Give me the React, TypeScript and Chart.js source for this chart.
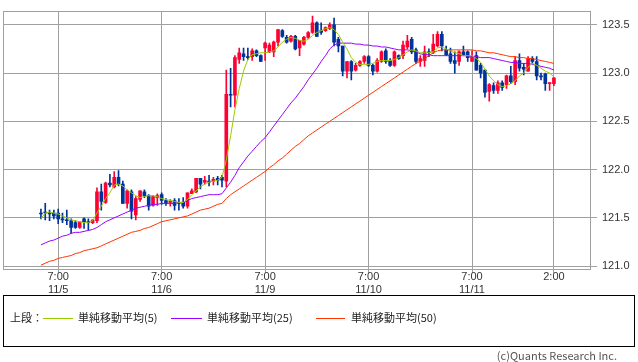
import React, { useEffect, useRef } from "react";
import { Chart, registerables } from "chart.js";

Chart.register(...registerables);

// Hourly candles: index 0 = 11/5 3:00, index 119 = 11/12 2:00 (weekend removed)
const OPEN = [
  121.55, 121.56, 121.55, 121.55, 121.55, 121.49, 121.48, 121.47, 121.45, 121.40,
  121.49, 121.46, 121.45, 121.47, 121.77, 121.66, 121.86, 121.82, 121.92, 121.85,
  121.65, 121.77, 121.53, 121.69, 121.77, 121.73, 121.63, 121.71, 121.74, 121.68,
  121.66, 121.68, 121.66, 121.66, 121.62, 121.75, 121.77, 121.91, 121.87, 121.88,
  121.88, 121.91, 121.92, 121.88, 122.78, 122.77, 123.14, 123.20, 123.17, 123.17,
  123.23, 123.18, 123.26, 123.22, 123.22, 123.32, 123.44, 123.37, 123.33, 123.38,
  123.26, 123.30, 123.37, 123.42, 123.52, 123.44, 123.44, 123.46, 123.50, 123.35,
  123.28, 123.02, 123.12, 123.03, 123.08, 123.12, 123.17, 123.08, 123.02, 123.12,
  123.23, 123.13, 123.08, 123.18, 123.18, 123.27, 123.35, 123.24, 123.12, 123.13,
  123.22, 123.22, 123.28, 123.40, 123.24, 123.20, 123.13, 123.12, 123.22, 123.22,
  123.12, 123.18, 123.08, 123.03, 122.81, 122.87, 122.82, 122.90, 122.88, 122.97,
  122.91, 123.13, 123.06, 123.02, 123.15, 123.12, 122.97, 122.99, 122.89, 122.89,
];
const HIGH = [
  121.59, 121.65, 121.58, 121.58, 121.59, 121.55, 121.58, 121.49, 121.47, 121.46,
  121.50, 121.49, 121.48, 121.81, 121.85, 121.87, 121.95, 121.98, 121.99, 121.88,
  121.79, 121.79, 121.72, 121.78, 121.79, 121.74, 121.73, 121.75, 121.76, 121.70,
  121.69, 121.70, 121.70, 121.71, 121.76, 121.80, 121.91, 121.91, 121.93, 121.94,
  121.92, 121.93, 121.94, 123.03, 123.05, 123.18, 123.26, 123.26, 123.26, 123.25,
  123.24, 123.19, 123.32, 123.31, 123.33, 123.45, 123.45, 123.39, 123.39, 123.39,
  123.34, 123.38, 123.43, 123.59, 123.53, 123.52, 123.48, 123.52, 123.57, 123.37,
  123.28, 123.12, 123.13, 123.10, 123.13, 123.18, 123.18, 123.09, 123.15, 123.23,
  123.25, 123.15, 123.23, 123.19, 123.33, 123.39, 123.37, 123.26, 123.18, 123.28,
  123.25, 123.40, 123.43, 123.43, 123.28, 123.26, 123.22, 123.23, 123.28, 123.23,
  123.23, 123.22, 123.10, 123.03, 122.89, 122.90, 122.92, 122.92, 122.98, 123.07,
  123.17, 123.20, 123.10, 123.17, 123.17, 123.17, 123.00, 123.00, 122.90, 122.95,
];
const LOW = [
  121.49, 121.48, 121.47, 121.49, 121.44, 121.45, 121.43, 121.34, 121.39, 121.39,
  121.39, 121.37, 121.44, 121.45, 121.58, 121.65, 121.82, 121.81, 121.83, 121.65,
  121.60, 121.49, 121.48, 121.67, 121.71, 121.58, 121.62, 121.63, 121.64, 121.63,
  121.62, 121.58, 121.58, 121.60, 121.60, 121.75, 121.76, 121.80, 121.85, 121.83,
  121.84, 121.84, 121.82, 121.82, 122.65, 122.65, 123.10, 123.13, 123.14, 123.13,
  123.17, 123.12, 123.13, 123.21, 123.17, 123.28, 123.37, 123.31, 123.32, 123.24,
  123.18, 123.29, 123.36, 123.41, 123.38, 123.40, 123.43, 123.45, 123.28, 123.22,
  122.97, 122.95, 122.93, 123.02, 123.07, 123.10, 123.07, 122.98, 123.01, 123.11,
  123.10, 123.07, 123.07, 123.14, 123.15, 123.25, 123.20, 123.10, 123.07, 123.07,
  123.17, 123.20, 123.27, 123.23, 123.18, 123.10, 123.00, 123.08, 123.18, 123.12,
  123.12, 123.03, 122.95, 122.75, 122.71, 122.79, 122.79, 122.82, 122.84, 122.89,
  122.88, 123.02, 122.98, 123.02, 123.10, 122.93, 122.93, 122.82, 122.82, 122.87,
];
const CLOSE = [
  121.54, 121.55, 121.54, 121.52, 121.49, 121.48, 121.47, 121.40, 121.40, 121.46,
  121.46, 121.45, 121.48, 121.77, 121.67, 121.86, 121.84, 121.92, 121.85, 121.65,
  121.78, 121.57, 121.70, 121.78, 121.73, 121.62, 121.72, 121.73, 121.68, 121.65,
  121.67, 121.63, 121.65, 121.62, 121.76, 121.78, 121.91, 121.85, 121.89, 121.87,
  121.90, 121.89, 121.89, 122.78, 122.77, 123.16, 123.21, 123.17, 123.16, 123.23,
  123.18, 123.12, 123.31, 123.29, 123.32, 123.45, 123.38, 123.32, 123.38, 123.25,
  123.34, 123.37, 123.42, 123.52, 123.38, 123.42, 123.47, 123.50, 123.32, 123.28,
  123.02, 123.12, 123.02, 123.08, 123.12, 123.17, 123.08, 123.02, 123.13, 123.22,
  123.12, 123.08, 123.22, 123.15, 123.29, 123.33, 123.22, 123.12, 123.15, 123.22,
  123.21, 123.30, 123.40, 123.28, 123.19, 123.12, 123.10, 123.22, 123.19, 123.16,
  123.17, 123.03, 123.00, 122.80, 122.88, 122.82, 122.90, 122.85, 122.97, 122.91,
  123.13, 123.05, 123.04, 123.15, 123.12, 122.97, 122.96, 122.89, 122.90, 122.95,
];

const MA5 = [
  121.49, 121.55, 121.56, 121.55, 121.54, 121.52, 121.50, 121.48, 121.47, 121.46,
  121.45, 121.45, 121.47, 121.55, 121.62, 121.70, 121.76, 121.84, 121.85, 121.83,
  121.79, 121.76, 121.73, 121.71, 121.72, 121.73, 121.73, 121.72, 121.70, 121.69,
  121.68, 121.67, 121.66, 121.66, 121.69, 121.74, 121.78, 121.82, 121.85, 121.87,
  121.88, 121.89, 121.92, 122.10, 122.35, 122.62, 122.84, 123.02, 123.14, 123.19,
  123.20, 123.21, 123.21, 123.22, 123.23, 123.27, 123.32, 123.35, 123.37, 123.36,
  123.34, 123.33, 123.35, 123.39, 123.42, 123.44, 123.46, 123.47, 123.45, 123.40,
  123.32, 123.25, 123.16, 123.11, 123.09, 123.09, 123.09, 123.10, 123.12, 123.13,
  123.13, 123.13, 123.14, 123.16, 123.19, 123.22, 123.24, 123.23, 123.21, 123.21,
  123.21, 123.22, 123.26, 123.27, 123.25, 123.23, 123.21, 123.20, 123.18, 123.18,
  123.18, 123.15, 123.11, 123.04, 122.97, 122.92, 122.88, 122.86, 122.87, 122.89,
  122.92, 122.97, 123.00, 123.06, 123.10, 123.08, 123.05, 123.02, 123.00, 122.96,
];
const MA25 = [
  121.22, 121.24, 121.26, 121.27, 121.29, 121.31, 121.32, 121.34, 121.35, 121.35,
  121.36, 121.37, 121.38, 121.40, 121.43, 121.46, 121.48, 121.50, 121.52, 121.54,
  121.56, 121.58, 121.60, 121.61, 121.62, 121.63, 121.64, 121.64, 121.65, 121.65,
  121.65, 121.65, 121.66, 121.66, 121.68, 121.70, 121.71, 121.72, 121.73, 121.74,
  121.74, 121.74, 121.75, 121.81, 121.87, 121.94, 122.02, 122.08, 122.14, 122.19,
  122.24, 122.29, 122.33, 122.39, 122.45, 122.51, 122.57, 122.63, 122.69, 122.74,
  122.80, 122.86, 122.93, 122.99, 123.05, 123.12, 123.18, 123.25, 123.29, 123.31,
  123.31, 123.31, 123.31, 123.30, 123.30, 123.29, 123.29, 123.28, 123.28, 123.27,
  123.27, 123.26, 123.25, 123.24, 123.24, 123.24, 123.23, 123.22, 123.20, 123.19,
  123.19, 123.18, 123.18, 123.18, 123.18, 123.18, 123.18, 123.18, 123.18, 123.18,
  123.17, 123.17, 123.16, 123.16, 123.16, 123.15, 123.14, 123.13, 123.12, 123.11,
  123.11, 123.10, 123.10, 123.10, 123.09, 123.08, 123.07, 123.06, 123.05, 123.03,
];
const MA50 = [
  121.01, 121.03, 121.05, 121.06, 121.08, 121.09, 121.10, 121.11, 121.13, 121.14,
  121.16, 121.17, 121.18, 121.19, 121.21, 121.23, 121.25, 121.27, 121.29, 121.31,
  121.33, 121.35, 121.36, 121.37, 121.39, 121.40, 121.42, 121.44, 121.46, 121.47,
  121.48, 121.49, 121.50, 121.51, 121.52, 121.54, 121.56, 121.58, 121.59, 121.60,
  121.62, 121.64, 121.65, 121.70, 121.74, 121.77, 121.80, 121.83, 121.86, 121.89,
  121.92, 121.95, 121.98, 122.02, 122.05, 122.09, 122.12, 122.16, 122.20, 122.24,
  122.27, 122.31, 122.35, 122.38, 122.41, 122.44, 122.47, 122.50, 122.53, 122.56,
  122.59, 122.62, 122.65, 122.68, 122.71, 122.74, 122.77, 122.80, 122.83, 122.86,
  122.89, 122.92, 122.95, 122.98, 123.01, 123.04, 123.07, 123.10, 123.12, 123.15,
  123.18, 123.21, 123.23, 123.24, 123.24, 123.24, 123.24, 123.24, 123.24, 123.24,
  123.24, 123.23, 123.23, 123.22, 123.21, 123.21, 123.20, 123.19, 123.18, 123.17,
  123.17, 123.16, 123.16, 123.15, 123.15, 123.14, 123.13, 123.12, 123.11, 123.10,
];

const X_TICKS = [4, 28, 52, 76, 100, 119];
const X_TICK_LABELS = [
  ["7:00", "11/5"],
  ["7:00", "11/6"],
  ["7:00", "11/9"],
  ["7:00", "11/10"],
  ["7:00", "11/11"],
  ["2:00"],
];
const Y_TICKS = [121.0, 121.5, 122.0, 122.5, 123.0, 123.5];
const LEGEND_PREFIX = "上段：";
const SERIES_LABELS = ["単純移動平均(5)", "単純移動平均(25)", "単純移動平均(50)"];
const COPYRIGHT = "(c)Quants Research Inc.";

const UP_COLOR = "#ff0033";
const DOWN_COLOR = "#003399";
const MA_COLORS = ["#99cc00", "#9900ff", "#ff3300"];
const GRID = "#a0a0a0";
const TICK_FONT = { family: "'Liberation Sans', Arial, sans-serif", size: 11, lineHeight: 1.14 };

const framePlugin = {
  id: "frame",
  beforeDatasetsDraw(chart: any) {
    const { ctx, chartArea: a } = chart;
    ctx.save();
    ctx.strokeStyle = GRID;
    ctx.lineWidth = 1;
    const l = Math.round(a.left) + 0.5;
    const t = Math.round(a.top) + 0.5;
    const r = Math.round(a.right) - 0.5;
    const b = Math.round(a.bottom) - 0.5;
    ctx.strokeRect(l, t, r - l, b - t);
    ctx.restore();
  },
};

export default function App() {
  const ref = useRef<HTMLCanvasElement | null>(null);

  useEffect(() => {
    if (!ref.current) return;
    const idx = OPEN.map((_, i) => i);
    const colors = idx.map((i) => (CLOSE[i] > OPEN[i] ? UP_COLOR : DOWN_COLOR));
    const mas = [MA5, MA25, MA50];
    const chart = new Chart(ref.current, {
      type: "bar",
      data: {
        datasets: [
          ...mas.map((ma, k) => ({
            type: "line" as const,
            label: SERIES_LABELS[k],
            data: idx.map((i) => ({ x: i, y: ma[i] })),
            borderColor: MA_COLORS[k],
            borderWidth: 1,
            pointRadius: 0,
            tension: 0,
            order: 0,
          })),
          {
            type: "bar" as const,
            label: "body",
            data: idx.map((i) => ({ x: i, y: [OPEN[i], CLOSE[i]] })),
            backgroundColor: colors,
            barThickness: 3,
            minBarLength: 1,
            grouped: false,
            order: 1,
          },
          {
            type: "bar" as const,
            label: "wick",
            data: idx.map((i) => ({ x: i, y: [LOW[i], HIGH[i]] })),
            backgroundColor: colors,
            barThickness: 1,
            grouped: false,
            order: 2,
          },
        ] as any,
      },
      options: {
        responsive: false,
        animation: false,
        layout: { padding: { left: 3, top: 1, right: 0, bottom: 0 } },
        plugins: { legend: { display: false }, tooltip: { enabled: false } },
        scales: {
          x: {
            type: "linear",
            min: -8.8,
            max: 127.6,
            offset: false,
            afterBuildTicks: (s: any) => {
              s.ticks = X_TICKS.map((v) => ({ value: v }));
            },
            afterFit: (s: any) => {
              s.height = 26;
            },
            grid: { color: GRID, tickLength: 3, drawTicks: true, offset: false },
            border: { display: false },
            ticks: {
              autoSkip: false,
              maxRotation: 0,
              padding: -2,
              color: "#333",
              font: TICK_FONT,
              callback: (_v: any, i: number) => X_TICK_LABELS[i],
            },
          },
          y: {
            type: "linear",
            position: "right",
            min: 120.96,
            max: 123.64,
            afterBuildTicks: (s: any) => {
              s.ticks = Y_TICKS.map((v) => ({ value: v }));
            },
            afterFit: (s: any) => {
              s.width = 47;
            },
            grid: { color: GRID, tickLength: 6, offset: false },
            border: { display: false },
            ticks: {
              padding: 5,
              color: "#333",
              font: TICK_FONT,
              callback: (v: any) => Number(v).toFixed(1),
            },
          },
        },
      } as any,
      plugins: [framePlugin],
    });
    return () => chart.destroy();
  }, []);

  const textStyle: React.CSSProperties = {
    position: "absolute",
    fontFamily: "'Noto Sans CJK JP', 'Liberation Sans', sans-serif",
    fontSize: 11,
    lineHeight: "13px",
    color: "#222",
    whiteSpace: "nowrap",
  };
  const lineStyle = (left: number, width: number, color: string): React.CSSProperties => ({
    position: "absolute",
    left,
    top: 318,
    width,
    height: 1,
    background: color,
  });

  return (
    <div style={{ position: "absolute", left: 0, top: 0, width: 638, height: 362, background: "#fff" }}>
      <canvas ref={ref} width={638} height={296} style={{ position: "absolute", left: 0, top: 0 }} />
      <div
        style={{
          position: "absolute",
          left: 3,
          top: 295,
          width: 632,
          height: 52,
          border: "1px solid #000",
          boxSizing: "border-box",
        }}
      />
      <div style={{ ...textStyle, left: 10, top: 311 }}>{LEGEND_PREFIX}</div>
      <div style={lineStyle(43, 30, MA_COLORS[0])} />
      <div style={{ ...textStyle, left: 78, top: 311 }}>{SERIES_LABELS[0]}</div>
      <div style={lineStyle(171, 31, MA_COLORS[1])} />
      <div style={{ ...textStyle, left: 207, top: 311 }}>{SERIES_LABELS[1]}</div>
      <div style={lineStyle(316, 29, MA_COLORS[2])} />
      <div style={{ ...textStyle, left: 351, top: 311 }}>{SERIES_LABELS[2]}</div>
      <div style={{ ...textStyle, right: 21, top: 349, color: "#555" }}>{COPYRIGHT}</div>
    </div>
  );
}
